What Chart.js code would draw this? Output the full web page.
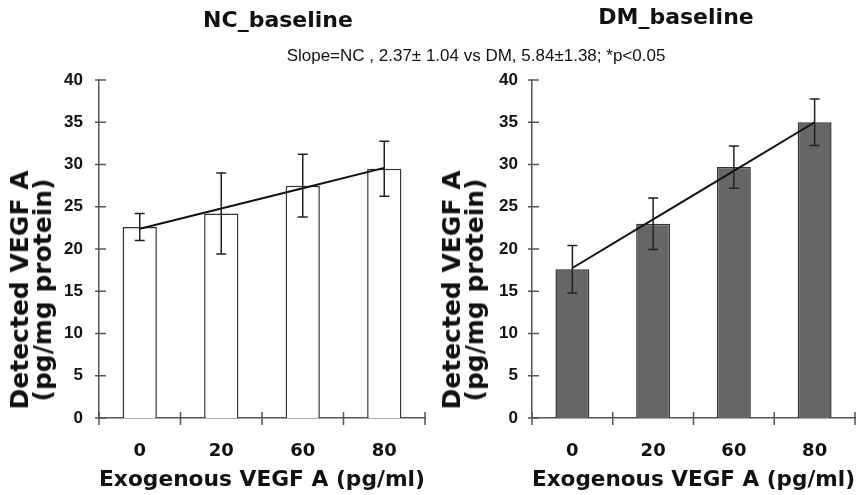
<!DOCTYPE html>
<html lang="en">
<head>
    <meta charset="UTF-8">
    <title>VEGF A baseline</title>
    <script src="https://cdn.jsdelivr.net/npm/chart.js"></script>
    <style>
        body { margin: 0; background: #fff; }
        .figure { position: relative; width: 856px; height: 495px; overflow: hidden; }
        .figure canvas { position: absolute; top: 0; }
        .txt { position: absolute; color: #111; white-space: nowrap; text-align: center; }
        .panel-title { font: bold 22px "DejaVu Sans"; line-height: 22px; width: 200px; }
        .slope { font: 17px "Liberation Sans", Arial; line-height: 17px; width: 500px; }
        .ytitle {
            font: bold 25px "DejaVu Sans"; line-height: 23px;
            transform: translate(-50%, -50%) rotate(-90deg);
        }
    </style>
</head>
<body>
    <div class="figure">
        <canvas id="ncChart" width="428" height="495" style="left:0"></canvas>
        <canvas id="dmChart" width="428" height="495" style="left:428px"></canvas>

        <div class="txt panel-title" style="left:178px; top:9px">NC_baseline</div>
        <div class="txt panel-title" style="left:576px; top:6px">DM_baseline</div>
        <div class="txt slope" style="left:226px; top:47px">Slope=NC , 2.37± 1.04 vs DM, 5.84±1.38; *p&lt;0.05</div>
        <div class="txt ytitle" style="left:31px; top:290px">Detected VEGF A<br>(pg/mg protein)</div>
        <div class="txt ytitle" style="left:463px; top:290px">Detected VEGF A<br>(pg/mg protein)</div>
    </div>

    <script>
        // values
        const doses = ['0', '20', '60', '80'];
        const yTicks = [0, 5, 10, 15, 20, 25, 30, 35, 40];

        const ncMeans = [22.6, 24.2, 27.5, 29.5];
        const ncErrors = [1.6, 4.8, 3.7, 3.25];
        const ncFit = [22.4, 24.8, 27.2, 29.6];

        const dmMeans = [17.6, 23.0, 29.7, 35.0];
        const dmErrors = [2.8, 3.05, 2.5, 2.75];
        const dmFit = [17.75, 23.5, 29.25, 35.0];

        const axisColor = '#555';
        const inkColor = '#111';

        // error bars on top of each bar
        const errorBars = {
            id: 'errorBars',
            afterDatasetsDraw(chart, args, opts) {
                const meta = chart.getDatasetMeta(0);
                const values = chart.data.datasets[0].data;
                const y = chart.scales.y;
                const ctx = chart.ctx;
                ctx.save();
                ctx.strokeStyle = '#222';
                ctx.lineWidth = 1.5;
                ctx.beginPath();
                meta.data.forEach((bar, i) => {
                    const top = y.getPixelForValue(values[i] + opts.errors[i]);
                    const bot = y.getPixelForValue(values[i] - opts.errors[i]);
                    ctx.moveTo(bar.x, top); ctx.lineTo(bar.x, bot);
                    ctx.moveTo(bar.x - 5, top); ctx.lineTo(bar.x + 5, top);
                    ctx.moveTo(bar.x - 5, bot); ctx.lineTo(bar.x + 5, bot);
                });
                ctx.stroke();
                ctx.restore();
            }
        };

        // tick marks that cross the axis lines
        const crossTicks = {
            id: 'crossTicks',
            afterDraw(chart) {
                const { ctx, chartArea, scales: { x, y } } = chart;
                ctx.save();
                ctx.strokeStyle = axisColor;
                ctx.lineWidth = 1.5;
                ctx.beginPath();
                y.ticks.forEach((t, i) => {
                    const py = y.getPixelForTick(i);
                    ctx.moveTo(chartArea.left - 4, py);
                    ctx.lineTo(chartArea.left + 7, py);
                });
                const step = x.getPixelForValue(1) - x.getPixelForValue(0);
                for (let i = 0; i <= doses.length; i++) {
                    const px = x.getPixelForValue(0) - step / 2 + i * step;
                    ctx.moveTo(px, chartArea.bottom - 6);
                    ctx.lineTo(px, chartArea.bottom + 7);
                }
                ctx.stroke();
                ctx.restore();
            }
        };

        function makeChart(id, means, errors, fit, barColor, yWidth, yPad, padRight) {
            return new Chart(document.getElementById(id), {
                type: 'bar',
                data: {
                    labels: doses,
                    datasets: [
                        {
                            data: means,
                            backgroundColor: barColor,
                            borderColor: '#333',
                            borderWidth: 1.5,
                            barPercentage: 0.42,
                            categoryPercentage: 1,
                            order: 1
                        },
                        {
                            type: 'line',
                            data: fit,
                            borderColor: inkColor,
                            borderWidth: 2,
                            pointRadius: 0,
                            tension: 0,
                            order: 0
                        }
                    ]
                },
                options: {
                    responsive: false,
                    animation: false,
                    layout: { padding: { top: 80, left: 0, right: padRight, bottom: 0 } },
                    plugins: {
                        legend: { display: false },
                        tooltip: { enabled: false },
                        errorBars: { errors: errors }
                    },
                    scales: {
                        x: {
                            grid: { display: false, drawTicks: false },
                            border: { display: true, color: axisColor, width: 1.5 },
                            ticks: {
                                color: inkColor,
                                padding: 23,
                                font: { family: 'DejaVu Sans', size: 18, weight: 'bold' }
                            },
                            title: {
                                display: true,
                                text: 'Exogenous VEGF A (pg/ml)',
                                color: inkColor,
                                padding: { top: 0, bottom: 2 },
                                font: { family: 'DejaVu Sans', size: 22, weight: 'bold' }
                            },
                            afterFit: s => { s.height = 77; }
                        },
                        y: {
                            min: 0,
                            max: 40,
                            afterBuildTicks: s => { s.ticks = yTicks.map(v => ({ value: v })); },
                            grid: { display: false, drawTicks: false },
                            border: { display: true, color: axisColor, width: 1.5 },
                            ticks: {
                                color: inkColor,
                                padding: yPad,
                                font: { family: 'Liberation Sans', size: 17, weight: 'bold' }
                            },
                            afterFit: s => { s.width = yWidth; }
                        }
                    }
                },
                plugins: [errorBars, crossTicks]
            });
        }

        makeChart('ncChart', ncMeans, ncErrors, ncFit, '#ffffff', 99, 16, 3);
        makeChart('dmChart', dmMeans, dmErrors, dmFit, '#666666', 104, 14, 1);
    </script>
</body>
</html>
